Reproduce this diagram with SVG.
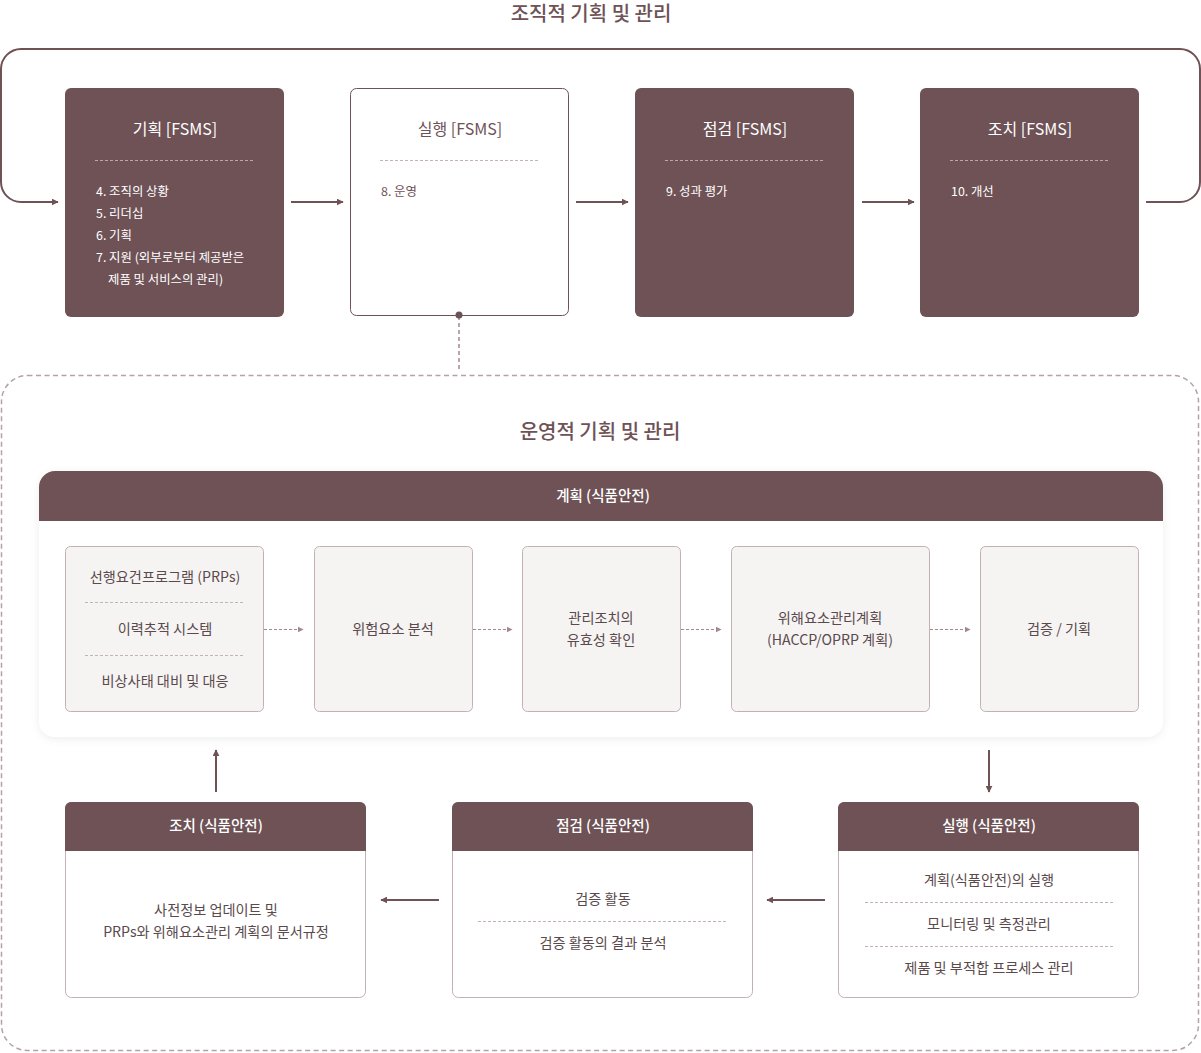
<svg xmlns="http://www.w3.org/2000/svg" width="1201" height="1053" viewBox="0 0 1201 1053">
<defs>
<marker id="ah" viewBox="0 0 10 10" refX="9" refY="5" markerWidth="7" markerHeight="7" markerUnits="userSpaceOnUse" orient="auto"><path d="M0,0 L10,5 L0,10 z" fill="#6e5256"/></marker>
<marker id="ahl" viewBox="0 0 10 10" refX="9" refY="5" markerWidth="6" markerHeight="7" markerUnits="userSpaceOnUse" orient="auto"><path d="M0,0 L10,5 L0,10 z" fill="#a3898d"/></marker>
<filter id="sh" x="-5%" y="-10%" width="110%" height="125%"><feDropShadow dx="0" dy="2" stdDeviation="4" flood-color="#000" flood-opacity="0.07"/></filter>
</defs>
<style>
text{font-family:"Noto Sans CJK KR","Noto Sans",sans-serif;}
.ttl{font-size:20px;fill:#6e5256;font-weight:500;text-anchor:middle;}
.dark{fill:#6e5256;}
.wt{fill:#ffffff;font-size:16px;text-anchor:middle;}
.wi{fill:#ffffff;font-size:12.4px;}
.dt{fill:#6e5256;font-size:16px;text-anchor:middle;}
.di{fill:#6e5256;font-size:12.4px;}
.sepw{stroke:#b9a7aa;stroke-width:1;stroke-dasharray:3,2;}
.sepd{stroke:#c4b3b6;stroke-width:1;stroke-dasharray:3,2;}
.conn{stroke:#6e5256;stroke-width:2;fill:none;}
.dconn{stroke:#a3898d;stroke-width:1;stroke-dasharray:3,2;fill:none;}
.lb{fill:#f6f4f3;stroke:#c4b0b3;stroke-width:1;}
.lt{fill:#5a4a4d;font-size:14.2px;text-anchor:middle;}
.ht{fill:#ffffff;font-size:14.5px;font-weight:500;text-anchor:middle;}
.bb{fill:#ffffff;stroke:#c4b0b3;stroke-width:1;}
</style>
<rect width="1201" height="1053" fill="#ffffff"/>

<text class="ttl" x="591" y="21">조직적 기획 및 관리</text>

<g id="node-fsms-plan">
<rect x="65" y="88" width="219" height="229" rx="6" class="dark"/>
<text class="wt" x="175" y="135">기획 [FSMS]</text>
<line x1="95" y1="160.5" x2="255" y2="160.5" class="sepw"/>
<text class="wi" x="96" y="196">4. 조직의 상황</text>
<text class="wi" x="96" y="218">5. 리더십</text>
<text class="wi" x="96" y="240">6. 기획</text>
<text class="wi" x="96" y="262">7. 지원 (외부로부터 제공받은</text>
<text class="wi" x="108" y="284">제품 및 서비스의 관리)</text>
</g>

<g id="node-fsms-do">
<rect x="350.5" y="88.5" width="218" height="227" rx="6" fill="#ffffff" stroke="#6e5256" stroke-width="1"/>
<text class="dt" x="460" y="135">실행 [FSMS]</text>
<line x1="380" y1="160.5" x2="540" y2="160.5" class="sepd"/>
<text class="di" x="381" y="196">8. 운영</text>
</g>

<g id="node-fsms-check">
<rect x="635" y="88" width="219" height="229" rx="6" class="dark"/>
<text class="wt" x="745" y="135">점검 [FSMS]</text>
<line x1="665" y1="160.5" x2="825" y2="160.5" class="sepw"/>
<text class="wi" x="666" y="196">9. 성과 평가</text>
</g>

<g id="node-fsms-act">
<rect x="920" y="88" width="219" height="229" rx="6" class="dark"/>
<text class="wt" x="1030" y="135">조치 [FSMS]</text>
<line x1="950" y1="160.5" x2="1110" y2="160.5" class="sepw"/>
<text class="wi" x="951" y="196">10. 개선</text>
</g>

<g id="operational">
<rect x="1.5" y="375.5" width="1197" height="675" rx="26" fill="none" stroke="#b3a3a6" stroke-width="1.5" stroke-dasharray="5,3.5"/>
<text class="ttl" x="600" y="439">운영적 기획 및 관리</text>
</g>

<g id="node-plan-panel">
<rect x="39" y="471" width="1124" height="266" rx="16" fill="#ffffff" filter="url(#sh)"/>
<path d="M55,471 H1147 A16,16 0 0 1 1163,487 V521 H39 V487 A16,16 0 0 1 55,471 Z" class="dark"/>
<text class="ht" x="603" y="501">계획 (식품안전)</text>
</g>

<g id="node-prps">
<rect x="65.5" y="546.5" width="198" height="165" rx="5" class="lb"/>
<text class="lt" x="165" y="582">선행요건프로그램 (PRPs)</text>
<line x1="85" y1="602.5" x2="244" y2="602.5" class="sepd"/>
<text class="lt" x="165" y="634">이력추적 시스템</text>
<line x1="85" y1="655.5" x2="244" y2="655.5" class="sepd"/>
<text class="lt" x="165" y="686">비상사태 대비 및 대응</text>
</g>

<g id="node-hazard">
<rect x="314.5" y="546.5" width="158" height="165" rx="5" class="lb"/>
<text class="lt" x="393" y="634">위험요소 분석</text>
</g>

<g id="node-control">
<rect x="522.5" y="546.5" width="158" height="165" rx="5" class="lb"/>
<text class="lt" x="601" y="623">관리조치의</text>
<text class="lt" x="601" y="645">유효성 확인</text>
</g>

<g id="node-haccp">
<rect x="731.5" y="546.5" width="198" height="165" rx="5" class="lb"/>
<text class="lt" x="830" y="623">위해요소관리계획</text>
<text class="lt" x="830" y="645">(HACCP/OPRP 계획)</text>
</g>

<g id="node-verify">
<rect x="980.5" y="546.5" width="158" height="165" rx="5" class="lb"/>
<text class="lt" x="1059" y="634">검증 / 기획</text>
</g>

<g id="node-act">
<rect x="65.5" y="802.5" width="300" height="195" rx="6" class="bb"/>
<path d="M71,802 H360 A6,6 0 0 1 366,808 V851 H65 V808 A6,6 0 0 1 71,802 Z" class="dark"/>
<text class="ht" x="216" y="831">조치 (식품안전)</text>
<text class="lt" x="216" y="915">사전정보 업데이트 및</text>
<text class="lt" x="216" y="937">PRPs와 위해요소관리 계획의 문서규정</text>
</g>

<g id="node-check">
<rect x="452.5" y="802.5" width="300" height="195" rx="6" class="bb"/>
<path d="M458,802 H747 A6,6 0 0 1 753,808 V851 H452 V808 A6,6 0 0 1 458,802 Z" class="dark"/>
<text class="ht" x="603" y="831">점검 (식품안전)</text>
<text class="lt" x="603" y="904">검증 활동</text>
<line x1="478" y1="921.5" x2="728" y2="921.5" class="sepd"/>
<text class="lt" x="603" y="948">검증 활동의 결과 분석</text>
</g>

<g id="node-do">
<rect x="838.5" y="802.5" width="300" height="195" rx="6" class="bb"/>
<path d="M844,802 H1133 A6,6 0 0 1 1139,808 V851 H838 V808 A6,6 0 0 1 844,802 Z" class="dark"/>
<text class="ht" x="989" y="831">실행 (식품안전)</text>
<text class="lt" x="989" y="885">계획(식품안전)의 실행</text>
<line x1="865" y1="902.5" x2="1114" y2="902.5" class="sepd"/>
<text class="lt" x="989" y="929">모니터링 및 측정관리</text>
<line x1="865" y1="946.5" x2="1114" y2="946.5" class="sepd"/>
<text class="lt" x="989" y="973">제품 및 부적합 프로세스 관리</text>
</g>

<g id="connectors">
<path class="conn" d="M58,202 H21 A20,20 0 0 1 1,182 V69 A20,20 0 0 1 21,49 H1180 A20,20 0 0 1 1200,69 V182 A20,20 0 0 1 1180,202 H1146"/>
<path class="conn" d="M30,202 H58" marker-end="url(#ah)"/>
<path class="conn" d="M291,202 H343" marker-end="url(#ah)"/>
<path class="conn" d="M576,202 H628" marker-end="url(#ah)"/>
<path class="conn" d="M862,202 H914" marker-end="url(#ah)"/>
<path d="M459,316 V370" stroke="#a3898d" stroke-width="1.5" stroke-dasharray="4,3" fill="none"/>
<circle cx="459" cy="315" r="3.5" fill="#6e5256"/>
<path class="dconn" d="M264,629.5 H303" marker-end="url(#ahl)"/>
<path class="dconn" d="M473,629.5 H512" marker-end="url(#ahl)"/>
<path class="dconn" d="M681,629.5 H721" marker-end="url(#ahl)"/>
<path class="dconn" d="M930,629.5 H970" marker-end="url(#ahl)"/>
<path class="conn" d="M216,792 V750" marker-end="url(#ah)"/>
<path class="conn" d="M989,750 V792" marker-end="url(#ah)"/>
<path class="conn" d="M825,900 H767" marker-end="url(#ah)"/>
<path class="conn" d="M439,900 H381" marker-end="url(#ah)"/>
</g>
</svg>
